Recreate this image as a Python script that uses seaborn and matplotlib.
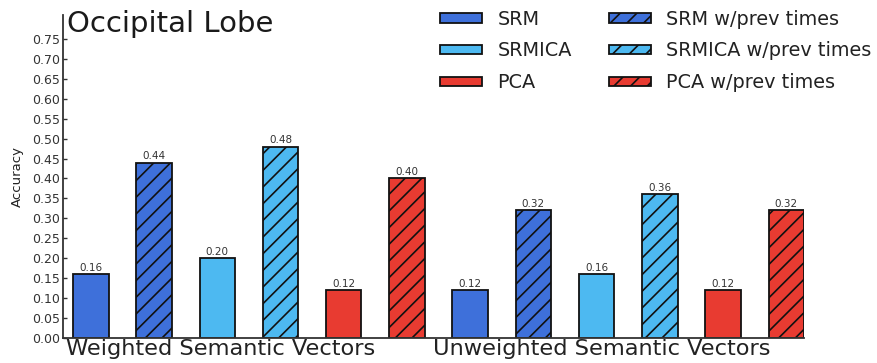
import matplotlib
matplotlib.use("Agg")
import matplotlib.pyplot as plt
from matplotlib.patches import Patch
import seaborn as sns
import pandas as pd

# Accuracy per method, for the two semantic-vector variants
methods = ["SRM", "SRM w/prev times", "SRMICA", "SRMICA w/prev times",
           "PCA", "PCA w/prev times"]
weighted = [0.16, 0.44, 0.20, 0.48, 0.12, 0.40]
unweighted = [0.12, 0.32, 0.16, 0.36, 0.12, 0.32]
group_labels = ["Weighted Semantic Vectors", "Unweighted Semantic Vectors"]
title = "Occipital Lobe"
y_ticks = [i * 0.05 for i in range(16)]

method_colors = {"SRM": "#3e70da", "SRMICA": "#4db9f1", "PCA": "#e83b31"}
HATCH = "//"

bars = []
for grp, vals in zip(group_labels, [weighted, unweighted]):
    for m, v in zip(methods, vals):
        bars.append({"bar": f"{grp}|{m}", "group": grp, "method": m, "acc": v})
df = pd.DataFrame(bars)

palette = {}
for _, r in df.iterrows():
    base = r["method"].split(" ")[0]
    palette[r["bar"]] = method_colors[base]

sns.set_theme(style="white")
plt.rcParams["font.family"] = ["DejaVu Sans"]
plt.rcParams["hatch.linewidth"] = 1.2

fig = plt.figure(figsize=(8.77, 3.63), dpi=100)
ax = fig.add_axes([63 / 877, 1 - 338 / 363, (804 - 63) / 877, (338 - 15) / 363])

sns.barplot(data=df, x="bar", y="acc", hue="bar", palette=palette,
            order=df["bar"], hue_order=df["bar"], width=0.56,
            edgecolor="#111111", linewidth=1.3, saturation=1,
            legend=False, ax=ax)

for cont, (_, r) in zip(ax.containers, df.iterrows()):
    for patch in cont:
        if "w/prev" in r["method"]:
            patch.set_hatch(HATCH)
    ax.bar_label(cont, labels=[f"{r['acc']:.2f}"], padding=1,
                 fontsize=7.5, color="#333333")

ax.set_xlim(-0.44, 11.28)
ax.set_ylim(0, 0.81)
ax.set_yticks(y_ticks)
ax.set_yticklabels([f"{t:.2f}" for t in y_ticks], fontsize=9, color="#333333")
ax.set_xticks([2.05, 8.08])
ax.set_xticklabels(group_labels, fontsize=16.2, color="#222222")
ax.tick_params(axis="x", length=0, pad=1)
ax.tick_params(axis="y", direction="in", length=3, width=1, color="#333333", pad=2, left=True)
ax.set_xlabel("")
ax.set_ylabel("Accuracy", fontsize=9.5, color="#222222", labelpad=6)

for s in ["top", "right"]:
    ax.spines[s].set_visible(False)
for s in ["left", "bottom"]:
    ax.spines[s].set_color("#333333")
    ax.spines[s].set_linewidth(1.3)

fig.text(67 / 877, 1 - 32 / 363, title, fontsize=21, color="#1a1a1a",
         va="baseline", ha="left")

handles = []
for m in methods:
    base = m.split(" ")[0]
    handles.append(Patch(facecolor=method_colors[base], edgecolor="#111111",
                         linewidth=1.3, hatch=HATCH if "w/prev" in m else None,
                         label=m))
order = [0, 2, 4, 1, 3, 5]
fig.legend([handles[i] for i in order], [methods[i] for i in order],
           ncol=2, loc="upper left", bbox_to_anchor=(423 / 877, 1.021),
           frameon=False, fontsize=13.9, handlelength=2.17, handleheight=0.38,
           labelspacing=0.66, columnspacing=1.92, handletextpad=0.78,
           labelcolor="#222222", borderpad=0.4)

fig.savefig("out.png", dpi=100)
